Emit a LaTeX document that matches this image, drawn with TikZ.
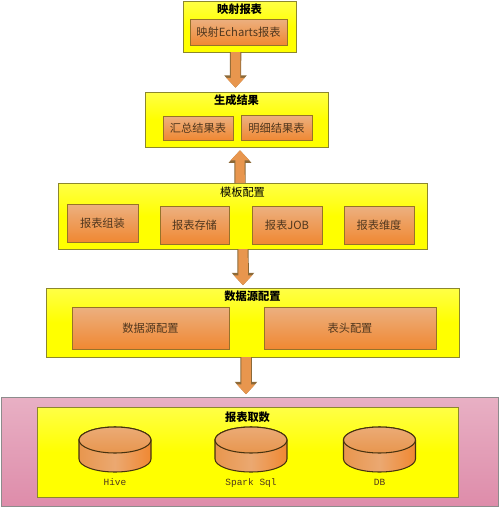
\documentclass[tikz,border=0pt]{standalone}
\usepackage{fontspec}
\setmainfont{Noto Sans CJK SC}
\setmonofont{Liberation Mono}
\usepackage{xcolor}
\definecolor{panelyellow}{RGB}{255, 255, 0}
\definecolor{panelpale}{RGB}{255, 255, 70}
\definecolor{paneledge}{RGB}{140, 135, 45}
\definecolor{cellpale}{RGB}{236, 176, 128}
\definecolor{cellorange}{RGB}{240, 136, 50}
\definecolor{celledge}{RGB}{150, 115, 40}
\definecolor{celltext}{RGB}{80, 55, 30}
\definecolor{arrowfill}{RGB}{232, 150, 78}
\definecolor{arrowedge}{RGB}{140, 105, 55}
\definecolor{diskedge}{RGB}{70, 50, 15}
\definecolor{pinkpale}{RGB}{232, 176, 196}
\definecolor{pinkdeep}{RGB}{222, 140, 170}
\usetikzlibrary{positioning,arrows.meta}
\tikzset{
  boxsize/.style 2 args={minimum width=#1*0.02cm, minimum height=#2*0.02cm},
  panel/.style={
    rectangle, draw=paneledge, line width=0.5pt, inner sep=0pt, outer sep=0pt,
    top color=panelpale, bottom color=panelyellow, middle color=panelyellow
  },
  cell/.style={
    rectangle, draw=celledge, line width=0.55pt, inner sep=0pt, outer sep=0pt,
    top color=cellpale, bottom color=cellorange,
    align=center, text=celltext, font=\fontsize{6.4pt}{7pt}\selectfont
  },
  paneltitle/.style={inner sep=0pt, font=\fontsize{6.4pt}{7pt}\selectfont\bfseries},
  diskslot/.style={rectangle, inner sep=0pt, outer sep=0pt, boxsize={72}{45}},
  diskbody/.style={draw=diskedge, line width=0.6pt, left color=arrowfill, right color=cellorange, middle color=cellpale!70!arrowfill},
  disktop/.style={draw=diskedge, line width=0.6pt, top color=cellpale!80!arrowfill, bottom color=arrowfill},
  disklabel/.style={inner sep=0pt, text=celltext, text height=4.2pt, text depth=1pt,
    font=\fontsize{5.4pt}{6pt}\selectfont\ttfamily},
  blockarrow/.style={
    preaction={draw=arrowedge, line width=0.23cm,
      -{Triangle[width=0.44cm, length=0.25cm, fill=arrowedge]}},
    draw=arrowfill, line width=0.19cm, shorten >=0.025cm,
    -{Triangle[width=0.36cm, length=0.2cm, fill=arrowfill]}
  },
}

\begin{document}
\begin{tikzpicture}[x=0.02cm, y=-0.02cm]
  \useasboundingbox (0,0) rectangle (500,508);

  % top panel
  \node[panel, boxsize={113}{51}] (mappanel) at (239.5,26.5) {};
  \node[paneltitle, below=1.5pt of mappanel.north] (maptitle) {映射报表};
  \node[cell, boxsize={97}{26}] (echarts) at (238.5,32) {映射Echarts报表};

  \node[panel, boxsize={183}{55}] (resultpanel) at (236.5,119.5) {};
  \node[paneltitle, below=1.2pt of resultpanel.north] (resulttitle) {生成结果};
  \node[cell, boxsize={70}{24}] (summary) at (198,128) {汇总结果表};
  \node[cell, boxsize={71}{25}, right=8*0.02cm of summary] (detail) {明细结果表};

  \node[panel, boxsize={369}{66}] (templatepanel) at (242.5,216) {};
  \node[paneltitle, below=2pt of templatepanel.north, font=\fontsize{6.4pt}{7pt}\selectfont] (templatetitle) {模板配置};
  \node[cell, boxsize={71}{38}] (assemble) at (102.5,223) {报表组装};
  \node[cell, boxsize={69}{38}] (store) at (194.5,225) {报表存储};
  \node[cell, boxsize={70}{38}] (job) at (287,225) {报表JOB};
  \node[cell, boxsize={70}{38}] (dimension) at (379,225) {报表维度};

  \node[panel, boxsize={413}{69}] (sourcepanel) at (252.5,322.5) {};
  \node[paneltitle, below=1.5pt of sourcepanel.north] (sourcetitle) {数据源配置};
  \node[cell, boxsize={157}{42}] (sourcecfg) at (150.5,328) {数据源配置};
  \node[cell, boxsize={172}{42}] (headercfg) at (350,328) {表头配置};

  % bottom band with the three stores
  \node[rectangle, draw=black!45, line width=0.5pt, top color=pinkpale, bottom color=pinkdeep,
    boxsize={497}{109}, inner sep=0pt, outer sep=0pt] (fetchband) at (249.5,451.5) {};
  \node[panel, boxsize={421}{90}] (fetchpanel) at (247.5,452) {};
  \node[paneltitle, below=2.5pt of fetchpanel.north] (fetchtitle) {报表取数};

  \foreach \name/\cx/\txt in {hive/115/Hive, spark/251/Spark Sql, db/379.5/DB} {
    \node[diskslot] (\name) at (\cx,449.5) {};
    \draw[diskbody] ([yshift=-0.26cm]\name.north west) -- ([yshift=0.26cm]\name.south west)
      arc[start angle=180, end angle=360, x radius=0.72cm, y radius=0.26cm]
      -- ([yshift=-0.26cm]\name.north east)
      arc[start angle=0, end angle=180, x radius=0.72cm, y radius=0.26cm] -- cycle;
    \draw[disktop] ([yshift=-0.26cm]\name.north) ellipse[x radius=0.72cm, y radius=0.26cm];
    \node[disklabel, below=3pt of \name] (\name label) {\txt};
  }

  \draw[blockarrow] ([xshift=-0.08cm]mappanel.south) -- ([xshift=-0.02cm,yshift=0.06cm]resultpanel.north);
  \draw[blockarrow] ([xshift=-0.05cm]templatepanel.north) -- ([xshift=0.07cm,yshift=-0.04cm]resultpanel.south);
  \draw[blockarrow] ([xshift=0.01cm]templatepanel.south) -- ([xshift=-0.19cm,yshift=0.03cm]sourcepanel.north);
  \draw[blockarrow] ([xshift=-0.13cm]sourcepanel.south) -- ([xshift=-0.07cm,yshift=0.03cm]fetchband.north);

\end{tikzpicture}
\end{document}
